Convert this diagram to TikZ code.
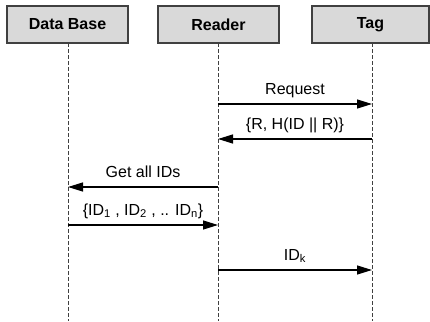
\documentclass[tikz,border=0pt]{standalone}
\usepackage{fontspec}
\setmainfont{Liberation Sans}
\definecolor{BoxGray}{RGB}{217,217,217}
\definecolor{EdgeGray}{RGB}{64,64,64}
\usepackage{tikz}
\usetikzlibrary{arrows.meta, positioning}

\begin{document}
\begin{tikzpicture}[x=1pt, y=1pt,
    actor/.style={draw=EdgeGray, line width=1.4pt, fill=BoxGray, minimum width=121pt,
                  minimum height=37pt, inner sep=0pt, font=\fontsize{16}{19}\selectfont\bfseries},
    lifeline/.style={EdgeGray, line width=0.8pt, dash pattern=on 4pt off 2pt},
    msg/.style={-{Triangle[length=15pt, width=9pt]}, line width=1.3pt},
    msglabel/.style={anchor=base, yshift=10pt, inner sep=0pt, font=\fontsize{16}{19}\selectfont}]
      \useasboundingbox (0,0) rectangle (430,-321);

      \node[actor] (db) at (67.5,-24.5) {Data Base};
      \node[actor] (rd) at (218.5,-24.5) {Reader};
      \node[actor, minimum width=117pt] (tg) at (370.5,-24.5) {Tag};

      % lifelines
      \coordinate (dbEnd) at (68,-321);
      \coordinate (rdEnd) at (218,-321);
      \coordinate (tgEnd) at (372,-321);
      \draw[lifeline] (68,-43) -- (dbEnd);
      \draw[lifeline] (218,-43) -- (rdEnd);
      \draw[lifeline] (372,-43) -- (tgEnd);

      % message points on the lifelines
      \foreach \n/\y in {1/104, 2/139, 3/187, 4/225, 5/270}{
        \coordinate (db\n) at (68,-\y);
        \coordinate (rd\n) at (218,-\y);
        \coordinate (tg\n) at (372,-\y);
      }

      \draw[msg] (rd1) -- (tg1) node[msglabel, midway] {Request};
      \draw[msg] (tg2) -- (rd2) node[msglabel, midway] {\{R, H(ID || R)\}};
      \draw[msg] (rd3) -- (db3) node[msglabel, midway] {Get all IDs};
      \draw[msg] (db4) -- (rd4)
            node[msglabel, midway] {\{ID\textsubscript{1} , ID\textsubscript{2} , .. ID\textsubscript{n}\}};
      \draw[msg] (rd5) -- (tg5) node[msglabel, midway] {ID\textsubscript{k}};
\end{tikzpicture}
\end{document}
